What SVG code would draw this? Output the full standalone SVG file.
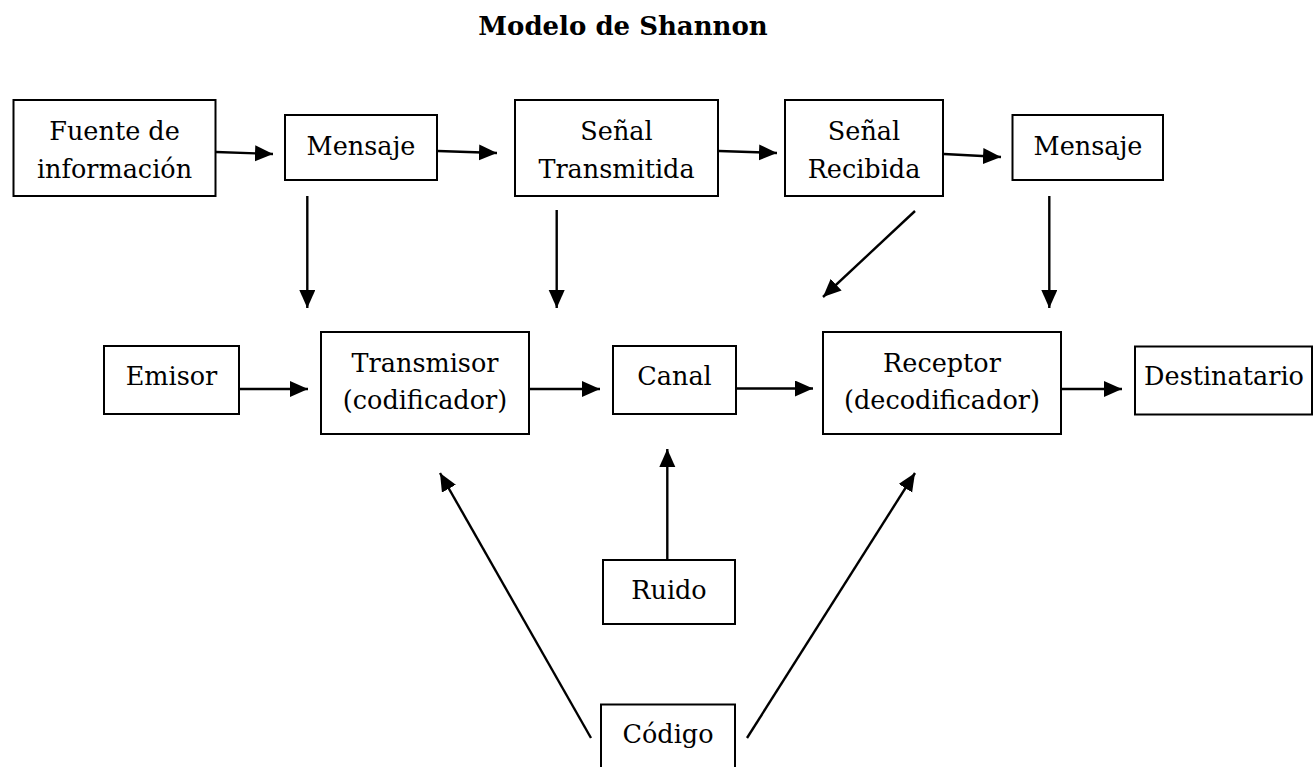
<svg xmlns="http://www.w3.org/2000/svg" width="1316" height="767" viewBox="0 0 1316 767">
<style>
.box{fill:#fff;stroke:#000;stroke-width:2}
.t{font-family:"DejaVu Serif","Liberation Serif",serif;font-size:25.5px;fill:#000;text-anchor:middle}
.title{font-family:"DejaVu Serif","Liberation Serif",serif;font-size:26px;font-weight:bold;fill:#000;text-anchor:middle}
.c{stroke:#000;stroke-width:2.4;fill:none;marker-end:url(#ah)}
</style>
<defs>
<marker id="ah" markerUnits="userSpaceOnUse" markerWidth="19" markerHeight="17" refX="18" refY="8" orient="auto">
<path d="M0,0 L18,8 L0,16 z" fill="#000"/>
</marker>
</defs>
<rect width="1316" height="767" fill="#fff"/>
<text class="title" x="623" y="35">Modelo de Shannon</text>

<g id="connectors">
<line class="c" x1="216" y1="152" x2="273" y2="154"/>
<line class="c" x1="438" y1="151" x2="497" y2="153"/>
<line class="c" x1="719" y1="151" x2="777" y2="153"/>
<line class="c" x1="944" y1="154" x2="1001" y2="157"/>
<line class="c" x1="307.3" y1="196" x2="307.3" y2="308"/>
<line class="c" x1="556.7" y1="210" x2="556.7" y2="308"/>
<line class="c" x1="915" y1="211" x2="823" y2="297"/>
<line class="c" x1="1049.3" y1="196" x2="1049.3" y2="308"/>
<line class="c" x1="239" y1="389" x2="308" y2="389"/>
<line class="c" x1="529" y1="389" x2="600" y2="389"/>
<line class="c" x1="736" y1="388.5" x2="813" y2="388.5"/>
<line class="c" x1="1061" y1="389" x2="1122" y2="389"/>
<line class="c" x1="667.3" y1="560" x2="667.3" y2="449"/>
<line class="c" x1="591" y1="738" x2="440" y2="473"/>
<line class="c" x1="747" y1="738" x2="915" y2="473"/>
</g>

<g id="fuente"><rect class="box" x="13.5" y="100" width="202" height="96"/>
<text class="t" x="114.5" y="140">Fuente de</text><text class="t" x="114.5" y="178">información</text></g>
<g id="mensaje1"><rect class="box" x="285" y="115" width="152" height="65"/>
<text class="t" x="361" y="155">Mensaje</text></g>
<g id="senal-transmitida"><rect class="box" x="515" y="100" width="203" height="96"/>
<text class="t" x="616.5" y="140">Señal</text><text class="t" x="616.5" y="178">Transmitida</text></g>
<g id="senal-recibida"><rect class="box" x="785" y="100" width="158" height="96"/>
<text class="t" x="864" y="140">Señal</text><text class="t" x="864" y="178">Recibida</text></g>
<g id="mensaje2"><rect class="box" x="1012.5" y="115" width="150.5" height="65"/>
<text class="t" x="1088" y="155">Mensaje</text></g>

<g id="emisor"><rect class="box" x="104" y="346" width="135" height="68"/>
<text class="t" x="171.5" y="385">Emisor</text></g>
<g id="transmisor"><rect class="box" x="321" y="332" width="208" height="102"/>
<text class="t" x="425" y="372">Transmisor</text><text class="t" x="425" y="409">(codificador)</text></g>
<g id="canal"><rect class="box" x="613" y="346" width="123" height="68"/>
<text class="t" x="674.5" y="385">Canal</text></g>
<g id="receptor"><rect class="box" x="823" y="332" width="238" height="102"/>
<text class="t" x="942" y="372">Receptor</text><text class="t" x="942" y="409">(decodificador)</text></g>
<g id="destinatario"><rect class="box" x="1135" y="346.5" width="177" height="68"/>
<text class="t" x="1224" y="385">Destinatario</text></g>

<g id="ruido"><rect class="box" x="603" y="560" width="132" height="64"/>
<text class="t" x="669" y="599">Ruido</text></g>
<g id="codigo"><rect class="box" x="601" y="704.5" width="134" height="70"/>
<text class="t" x="668" y="743">Código</text></g>
</svg>
